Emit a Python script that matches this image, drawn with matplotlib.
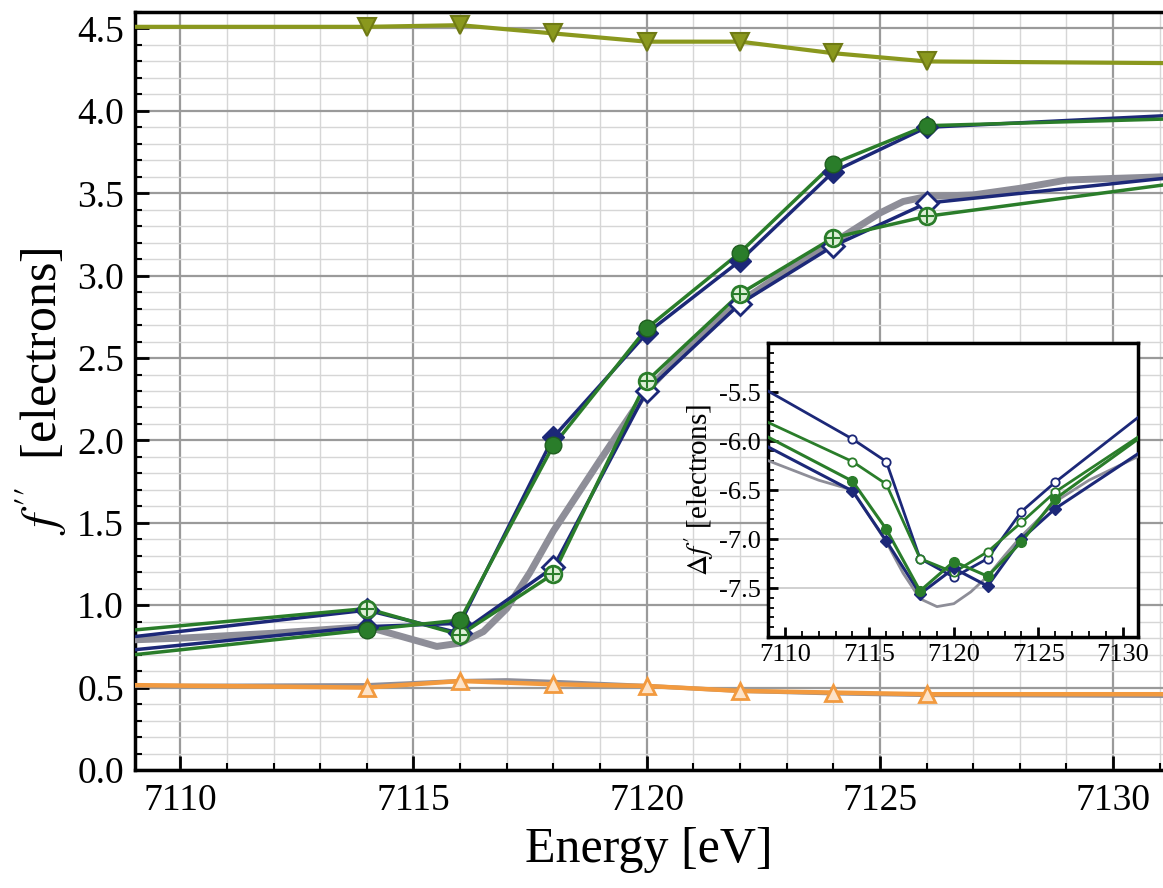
import numpy as np
import matplotlib
matplotlib.use("Agg")
import matplotlib.pyplot as plt
from matplotlib.ticker import MultipleLocator

plt.rcParams['font.family'] = ['Liberation Serif', 'DejaVu Serif']
plt.rcParams['mathtext.fontset'] = 'stix'

# energies of the measured points, and the curve ends at the axis edges
energy = [7114, 7116, 7118, 7120, 7122, 7124, 7126]
edge_left, edge_right = 7109.03, 7131.07

# main panel: f'' values (left edge, points, right edge)
olive_vals = [4.51, 4.51, 4.52, 4.47, 4.42, 4.42, 4.35, 4.30, 4.29]
orange_vals = [0.515, 0.50, 0.54, 0.52, 0.51, 0.48, 0.47, 0.46, 0.46]
navy_filled_vals = [0.73, 0.87, 0.89, 2.02, 2.65, 3.09, 3.63, 3.90, 3.97]
green_filled_vals = [0.70, 0.85, 0.91, 1.97, 2.68, 3.14, 3.68, 3.91, 3.95]
navy_open_vals = [0.81, 0.97, 0.83, 1.23, 2.30, 2.83, 3.18, 3.44, 3.59]
green_open_vals = [0.85, 0.98, 0.82, 1.19, 2.36, 2.89, 3.23, 3.36, 3.55]

# theory curves (gray)
theory_e = [7109, 7110, 7112, 7114, 7115, 7115.5, 7116, 7116.5, 7117, 7117.5, 7118,
            7119, 7120, 7121, 7122, 7123, 7124, 7125, 7125.5, 7126, 7127, 7128,
            7129, 7130, 7131.1]
theory_vals = [0.79, 0.80, 0.83, 0.87, 0.79, 0.75, 0.77, 0.84, 0.98, 1.2, 1.45,
               1.88, 2.30, 2.60, 2.84, 3.03, 3.20, 3.38, 3.45, 3.48, 3.49, 3.53,
               3.58, 3.59, 3.60]
theory_low_e = [7109, 7114, 7116, 7117, 7118, 7120, 7122, 7124, 7126, 7131.1]
theory_low_vals = [0.51, 0.515, 0.54, 0.545, 0.535, 0.51, 0.48, 0.465, 0.455, 0.45]

# inset: delta f' values (left edge, points, right edge)
in_left, in_right = 7109.0, 7130.9
in_navy_open = [-5.49, -5.98, -6.21, -7.20, -7.39, -7.20, -6.72, -6.42, -5.76]
in_green_open = [-5.81, -6.21, -6.44, -7.20, -7.34, -7.13, -6.83, -6.52, -5.96]
in_green_filled = [-5.96, -6.41, -6.90, -7.53, -7.23, -7.38, -7.03, -6.59, -5.98]
in_navy_filled = [-6.06, -6.51, -7.02, -7.56, -7.30, -7.48, -7.00, -6.69, -6.13]
in_theory_e = [7109, 7112, 7114, 7116, 7117, 7118, 7119, 7120, 7121, 7122, 7123,
               7124, 7125, 7126, 7128, 7131]
in_theory_vals = [-6.20, -6.40, -6.50, -7.03, -7.35, -7.61, -7.69, -7.66, -7.54,
                  -7.38, -7.17, -6.97, -6.80, -6.62, -6.40, -6.15]

NAVY = '#1c2878'
GREEN = '#2a7d2a'
OLIVE = '#8a981e'
ORANGE = '#f29a3f'
GRAY = '#8e8e98'

fig = plt.figure(figsize=(11.63, 8.88), dpi=100)
ax = fig.add_axes([135 / 1163, 1 - 770 / 888, 1028 / 1163, 758 / 888])

line_e = [edge_left] + energy + [edge_right]

ax.plot(theory_e, theory_vals, color=GRAY, lw=5, zorder=3, solid_capstyle='round')
ax.plot(theory_low_e, theory_low_vals, color=GRAY, lw=3, zorder=3)

ax.plot(line_e, orange_vals, color=ORANGE, lw=3.2, zorder=4)
ax.plot(energy, orange_vals[1:-1], ls='none', marker='^', ms=12, mfc='#fde3c8',
        mec=ORANGE, mew=2, zorder=5)
ax.plot(line_e, olive_vals, color=OLIVE, lw=3, zorder=4)
ax.plot(energy, olive_vals[1:-1], ls='none', marker='v', ms=13, mfc=OLIVE,
        mec='#6f7a14', mew=1.5, zorder=5)

ax.plot(line_e, navy_open_vals, color=NAVY, lw=2.5, zorder=4)
ax.plot(line_e, green_open_vals, color=GREEN, lw=2.5, zorder=4)
ax.plot(energy, navy_open_vals[1:-1], ls='none', marker='D', ms=11, mfc='white',
        mec=NAVY, mew=2, zorder=5)
ax.plot(energy, green_open_vals[1:-1], ls='none', marker='o', ms=12, mfc='#dff0d8',
        mec=GREEN, mew=2, zorder=6)
ax.plot(energy, green_open_vals[1:-1], ls='none', marker='+', ms=10, mec=GREEN,
        mew=1.5, zorder=7)

ax.plot(line_e, navy_filled_vals, color=NAVY, lw=2.5, zorder=4)
ax.plot(line_e, green_filled_vals, color=GREEN, lw=2.5, zorder=4)
ax.plot(energy, navy_filled_vals[1:-1], ls='none', marker='D', ms=11, mfc=NAVY,
        mec=NAVY, zorder=5)
ax.plot(energy, green_filled_vals[1:-1], ls='none', marker='o', ms=12, mfc=GREEN,
        mec='#1f5e1f', zorder=6)

ax.set_xlim(edge_left, edge_right)
ax.set_ylim(0, 4.6)
ax.xaxis.set_major_locator(MultipleLocator(5))
ax.xaxis.set_minor_locator(MultipleLocator(1))
ax.yaxis.set_major_locator(MultipleLocator(0.5))
ax.yaxis.set_minor_locator(MultipleLocator(0.1))
ax.yaxis.set_major_formatter(matplotlib.ticker.FormatStrFormatter('%.1f'))
ax.grid(which='major', color='#9a9a9a', lw=1.6, zorder=0)
ax.grid(which='minor', color='#d6d6d6', lw=1.0, zorder=0)
ax.set_axisbelow(True)
ax.tick_params(which='major', direction='in', length=10, width=2, labelsize=27,
               top=False, right=False)
ax.tick_params(which='minor', direction='in', length=5, width=1.5, top=False, right=False)
ax.tick_params(axis='x', pad=10)
ax.tick_params(axis='y', pad=8)
for s in ['left', 'bottom', 'top']:
    ax.spines[s].set_linewidth(2.5)
ax.spines['right'].set_visible(False)
ax.set_xlabel('Energy [eV]', fontsize=36, labelpad=6)
ax.set_ylabel(r"$f\,''$  [electrons]", fontsize=36, labelpad=6)

# inset with delta f'
ins = fig.add_axes([768 / 1163, 1 - 637 / 888, 370 / 1163, 294 / 888])
ins.set_zorder(10)
ins_e = [in_left] + energy + [in_right]
ins.plot(in_theory_e, in_theory_vals, color=GRAY, lw=2, zorder=3)
ins.plot(ins_e, in_navy_open, color=NAVY, lw=2, zorder=4)
ins.plot(energy, in_navy_open[1:-1], ls='none', marker='o', ms=6, mfc='white',
         mec=NAVY, mew=1.3, zorder=5)
ins.plot(ins_e, in_green_open, color=GREEN, lw=2, zorder=4)
ins.plot(energy, in_green_open[1:-1], ls='none', marker='o', ms=6, mfc='white',
         mec=GREEN, mew=1.3, zorder=5)
ins.plot(ins_e, in_navy_filled, color=NAVY, lw=2.2, zorder=4)
ins.plot(energy, in_navy_filled[1:-1], ls='none', marker='D', ms=6, mfc=NAVY,
         mec=NAVY, zorder=5)
ins.plot(ins_e, in_green_filled, color=GREEN, lw=2.2, zorder=4)
ins.plot(energy, in_green_filled[1:-1], ls='none', marker='o', ms=7, mfc=GREEN,
         mec=GREEN, zorder=5)

ins.set_xlim(in_left, in_right)
ins.set_ylim(-8.0, -5.0)
ins.set_yticks([-7.5, -7.0, -6.5, -6.0, -5.5])
ins.set_yticklabels(['-7.5', '-7.0', '-6.5', '-6.0', '-5.5'])
ins.xaxis.set_major_locator(MultipleLocator(5))
ins.xaxis.set_minor_locator(MultipleLocator(1))
ins.yaxis.set_minor_locator(MultipleLocator(0.1))
ins.grid(axis='y', which='major', color='#c8c8c8', lw=1.2, zorder=0)
ins.set_axisbelow(True)
ins.tick_params(which='major', direction='in', length=7, width=2, labelsize=19,
                top=False, right=False, pad=5)
ins.tick_params(which='minor', direction='in', length=4, width=1.3, top=False, right=False)
for s in ins.spines.values():
    s.set_linewidth(2.5)
ins.set_ylabel(r"$\Delta f\,'$ [electrons]", fontsize=21, labelpad=2)

fig.savefig('out.png', dpi=100)
